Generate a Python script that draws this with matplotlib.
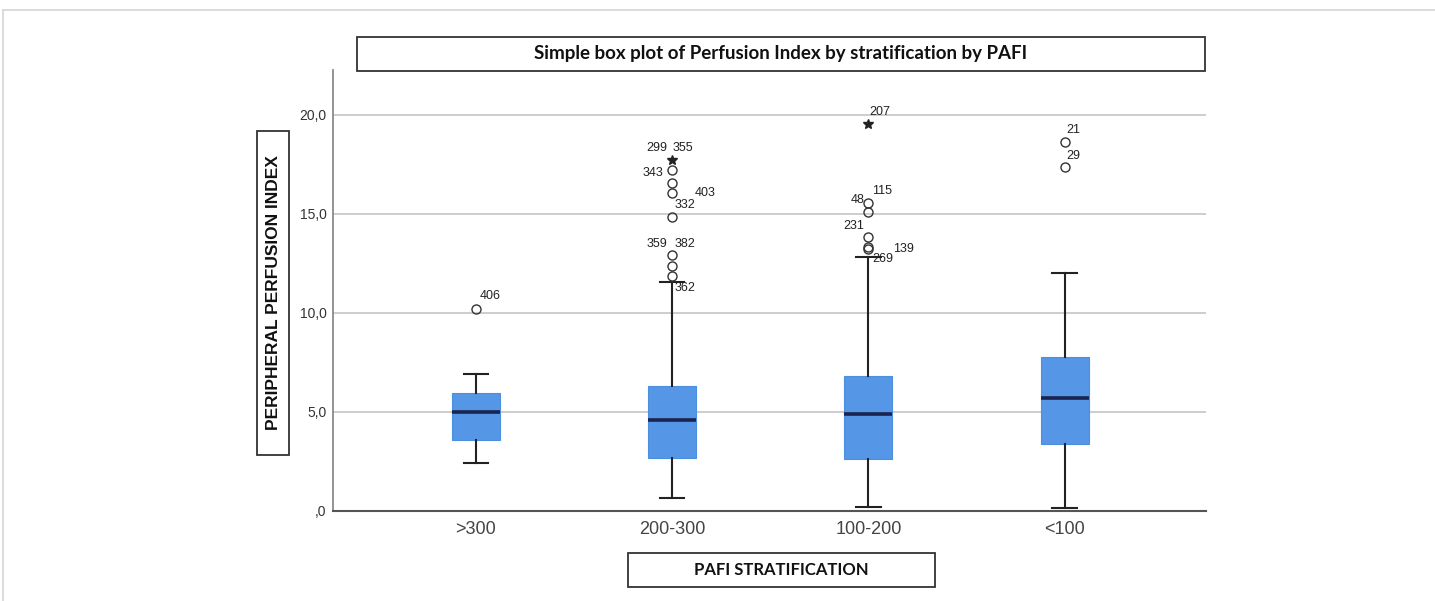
import matplotlib
matplotlib.use("Agg")
import matplotlib.pyplot as plt
from matplotlib.patches import Rectangle
from matplotlib.lines import Line2D

# ---------------- data ----------------
categories = [">300", "200-300", "100-200", "<100"]
q1 = [3.60, 2.68, 2.63, 3.38]
medians = [5.00, 4.60, 4.90, 5.71]
q3 = [5.96, 6.31, 6.82, 7.78]
whisker_low = [2.42, 0.66, 0.20, 0.15]
whisker_high = [6.92, 11.55, 12.81, 12.02]

# mild outliers (circles) per category
outliers = [
    [10.19],
    [11.87, 12.39, 12.93, 14.83, 16.08, 16.58, 17.22],
    [13.23, 13.35, 13.82, 15.12, 15.54],
    [17.36, 18.62],
]
# extreme values (stars) per category
extremes = [[], [17.73], [19.53], []]

# case labels: (category index, label, value of the case)
case_labels = [
    (0, "406", 10.19),
    (1, "299", 17.73), (1, "355", 17.73), (1, "343", 17.22),
    (1, "403", 16.58), (1, "332", 14.83),
    (1, "359", 12.93), (1, "382", 12.93), (1, "362", 11.87),
    (2, "207", 19.53), (2, "115", 15.54), (2, "48", 15.54),
    (2, "231", 13.82), (2, "139", 13.23), (2, "269", 13.35),
    (3, "21", 18.62), (3, "29", 17.36),
]
# label offsets in pixels (layout only)
label_offsets = [
    (14, 13),
    (-15, 12), (11, 12), (-19, -3),
    (33, -10), (13, 12),
    (-15, 11), (13, 11), (13, -12),
    (11, 12), (14, 12), (-11, 3),
    (-15, 11), (35, 0), (14, -12),
    (9, 12), (9, 11),
]

yticks = [0, 5, 10, 15, 20]
ytick_labels = [",0", "5,0", "10,0", "15,0", "20,0"]

title = "Simple box plot of Perfusion Index by stratification by PAFI"
xlabel = "PAFI STRATIFICATION"
ylabel = "PERIPHERAL PERFUSION INDEX"

# ---------------- figure ----------------
W, H = 1435, 601
fig = plt.figure(figsize=(W / 100, H / 100), dpi=100)
fig.patch.set_facecolor("white")


def fx(px):
    return px / W


def fy(py):
    return 1 - py / H


ax = fig.add_axes([fx(333), fy(511), fx(1206 - 333), (511 - 70) / H])

box_color = "#5596e6"
stats = []
for i in range(len(categories)):
    stats.append(dict(med=medians[i], q1=q1[i], q3=q3[i],
                      whislo=whisker_low[i], whishi=whisker_high[i],
                      fliers=[], label=categories[i]))
positions = list(range(len(categories)))
ax.bxp(stats, positions=positions, widths=0.245, patch_artist=True,
       showfliers=False,
       boxprops=dict(facecolor=box_color, edgecolor="#4d8fdf", linewidth=0.8),
       medianprops=dict(color="#1b2350", linewidth=2.6),
       whiskerprops=dict(color="#222222", linewidth=1.5),
       capprops=dict(color="#222222", linewidth=1.5),
       capwidths=0.125, zorder=3)

for i, vals in enumerate(outliers):
    ax.plot([i] * len(vals), vals, linestyle="none", marker="o",
            markersize=6.5, markerfacecolor="none", markeredgecolor="#333333",
            markeredgewidth=1.0, zorder=4)
for i, vals in enumerate(extremes):
    if vals:
        ax.plot([i] * len(vals), vals, linestyle="none", marker="*",
                markersize=7, color="#222222", zorder=4)

for (ci, lab, val), (dx, dy) in zip(case_labels, label_offsets):
    ax.annotate(lab, xy=(ci, val), xytext=(dx, dy), textcoords="offset pixels",
                ha="center", va="center", fontsize=9, color="#222222",
                family="Liberation Sans", zorder=5)

ax.set_xlim(-0.728, 3.72)
ax.set_ylim(0, 22.27)
ax.set_yticks(yticks)
ax.set_yticklabels(ytick_labels)
ax.set_xticks(positions)
ax.set_xticklabels(categories)
ax.tick_params(axis="y", length=0, pad=4.5, labelsize=10, labelcolor="#333333")
ax.tick_params(axis="x", length=0, pad=7, labelsize=13, labelcolor="#444444")
for lab in ax.get_xticklabels() + ax.get_yticklabels():
    lab.set_family("Liberation Sans")

ax.yaxis.grid(True, color="#c9c9c9", linewidth=1.3, zorder=0)
ax.set_axisbelow(True)
for s in ["top", "right"]:
    ax.spines[s].set_visible(False)
ax.spines["left"].set_color("#8a8a8a")
ax.spines["left"].set_linewidth(1.3)
ax.spines["bottom"].set_color("#555555")
ax.spines["bottom"].set_linewidth(1.5)
ax.set_facecolor("white")


def text_box(x0, y0, x1, y1, text, rotation=0, family="Lato", size=11):
    fig.add_artist(Rectangle((fx(x0), fy(y1)), fx(x1 - x0), (y1 - y0) / H,
                             transform=fig.transFigure, facecolor="white",
                             edgecolor="#333333", linewidth=1.3, zorder=10))
    fig.text(fx((x0 + x1) / 2), fy((y0 + y1) / 2), text, ha="center",
             va="center", rotation=rotation, fontsize=size, fontweight="bold",
             family=family, color="#111111", zorder=11)


text_box(357, 37, 1205, 71, title, family="Lato", size=13.5)
text_box(628, 553, 935, 587, xlabel, family="Lato", size=12)
text_box(257, 131, 289, 455, ylabel, rotation=90, family="Liberation Sans", size=12.5)

# outer frame lines of the source image
fig.add_artist(Line2D([fx(3), fx(1435)], [fy(10), fy(10)], transform=fig.transFigure,
                      color="#d6d6d6", linewidth=1.2))
fig.add_artist(Line2D([fx(3), fx(3)], [fy(10), fy(601)], transform=fig.transFigure,
                      color="#d6d6d6", linewidth=1.2))

fig.savefig("out.png", dpi=100, facecolor="white")
